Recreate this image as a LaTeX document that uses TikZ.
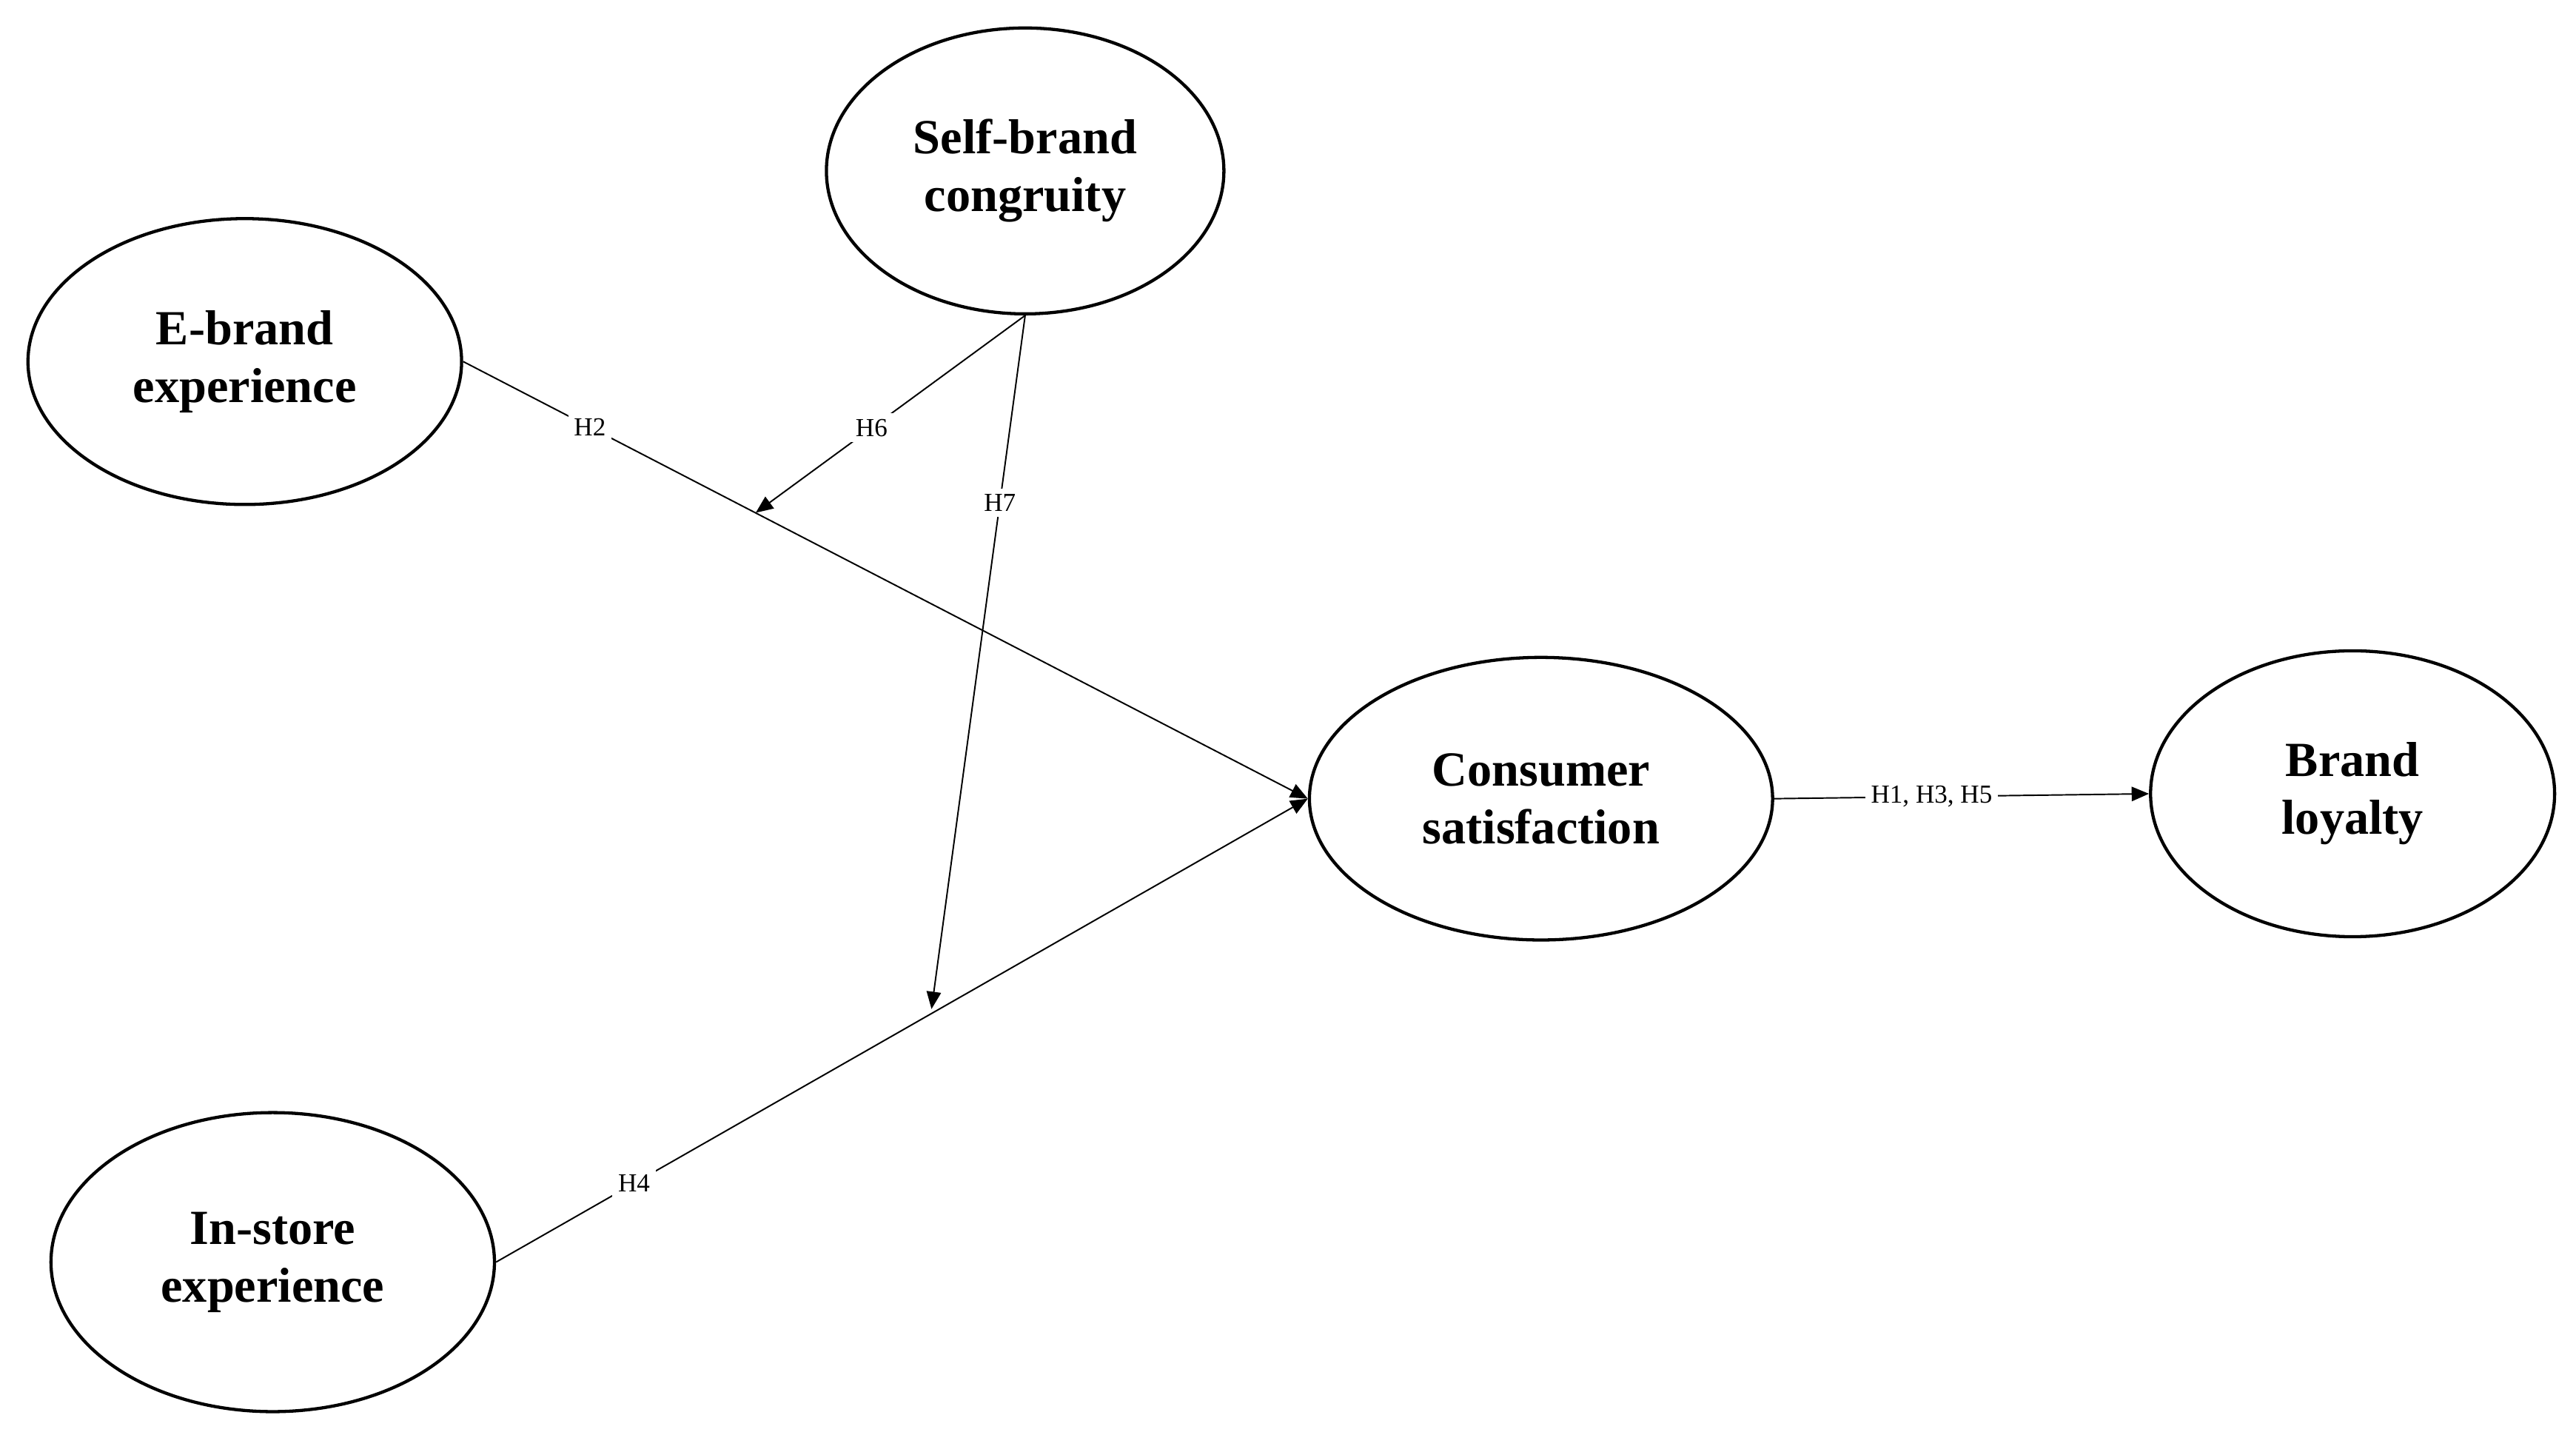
\documentclass[tikz,border=0pt]{standalone}
\usepackage{fontspec}
\setmainfont{Liberation Serif}
\usetikzlibrary{shapes.geometric,arrows.meta}
\begin{document}
\begin{tikzpicture}[x=0.02cm,y=-0.02cm,
  cons/.style={ellipse,draw,line width=1.1pt,font=\fontsize{17}{20}\selectfont\bfseries,align=center,inner sep=0pt},
  lab/.style={fill=white,font=\fontsize{9}{10}\selectfont,inner sep=2pt},
  arr/.style={line width=0.5pt,-{Triangle[length=6pt,width=5pt]}}]
\useasboundingbox (0,0) rectangle (1568,873);
\node[cons,minimum width=242\pgflinewidth,minimum width=4.84cm,minimum height=3.48cm] (sbc) at (624,104) {Self-brand\\congruity};
\node[cons,minimum width=5.28cm,minimum height=3.48cm] (ebe) at (149,220) {E-brand\\experience};
\node[cons,minimum width=5.64cm,minimum height=3.44cm] (cs) at (938,486) {Consumer\\satisfaction};
\node[cons,minimum width=4.92cm,minimum height=3.48cm] (bl) at (1432,483) {Brand\\loyalty};
\node[cons,minimum width=5.4cm,minimum height=3.64cm] (ise) at (166,768) {In-store\\experience};
\coordinate (m6) at (460,312);
\coordinate (m7) at (567,614);
\draw[arr] (ebe.east) -- node[lab,pos=0.15]{H2} (cs.west);
\draw[arr] (ise.east) -- node[lab,pos=0.17]{H4} (cs.west);
\draw[arr] (sbc.south) -- node[lab,pos=0.57]{H6} (m6);
\draw[arr] (sbc.south) -- node[lab,pos=0.27]{H7} (m7);
\draw[arr] (cs.east) -- node[lab,pos=0.42]{H1, H3, H5} (bl.west);
\end{tikzpicture}
\end{document}
